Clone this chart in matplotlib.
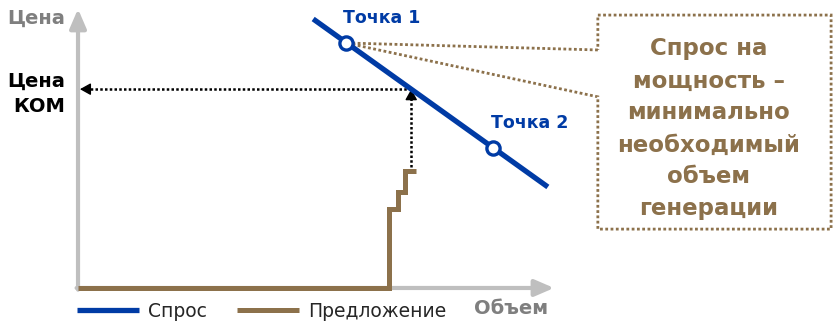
import matplotlib.pyplot as plt
from matplotlib.path import Path
from matplotlib.patches import PathPatch

# demand (Спрос) and supply (Предложение) curves, volume / price in % of axis
demand_q = [49.4, 98.7]
demand_p = [96.4, 36.2]
points_q = [56.3, 87.2]
points_p = [87.8, 50.2]
point_labels = ['Точка 1', 'Точка 2']

supply_q = [0, 65.3, 65.3, 67.2, 67.2, 68.7, 68.7, 71.0]
supply_p = [0, 0, 28.3, 28.3, 34.4, 34.4, 41.9, 41.9]

kom_q = 70.0
kom_p = demand_p[0] + (demand_p[1] - demand_p[0]) * (kom_q - demand_q[0]) / (demand_q[1] - demand_q[0])

blue = '#003BA5'
brown = '#8C714B'
grey = '#BFBFBF'
font = 'DejaVu Sans'

fig = plt.figure(figsize=(8.33, 3.21), dpi=100)
ax = fig.add_axes([0, 0, 1, 1])
ax.set_xlim(-16.39, 158.6)
ax.set_ylim(-11.83, 103.2)
ax.axis('off')

# axes with arrows
ax.annotate('', xy=(0, 100), xytext=(0, -0.6),
            arrowprops=dict(arrowstyle='-|>,head_length=0.58,head_width=0.25',
                            color=grey, lw=3, mutation_scale=20, shrinkA=0, shrinkB=0))
ax.annotate('', xy=(100, 0), xytext=(-0.3, 0),
            arrowprops=dict(arrowstyle='-|>,head_length=0.58,head_width=0.25',
                            color=grey, lw=3, mutation_scale=20, shrinkA=0, shrinkB=0))

# supply and demand
ax.plot(supply_q, supply_p, color=brown, lw=3.6, solid_joinstyle='miter',
        solid_capstyle='butt', label='Предложение', zorder=3)
ax.plot(demand_q, demand_p, color=blue, lw=3.8, solid_capstyle='butt',
        label='Спрос', zorder=4)

# dotted arrows to the КОМ price
dot = (0, (1, 0.9))
ax.plot([kom_q, kom_q], [43.2, kom_p - 2.0], color='black', lw=1.8, ls=dot, zorder=2)
ax.plot([kom_q, 1.0], [kom_p, kom_p], color='black', lw=1.8, ls=dot, zorder=2)
ax.annotate('', xy=(kom_q, kom_p), xytext=(kom_q, kom_p - 2.2),
            arrowprops=dict(arrowstyle='-|>,head_length=0.36,head_width=0.2',
                            color='black', lw=1, mutation_scale=18, shrinkA=0, shrinkB=0))
ax.annotate('', xy=(0.4, kom_p), xytext=(1.6, kom_p),
            arrowprops=dict(arrowstyle='-|>,head_length=0.36,head_width=0.2',
                            color='black', lw=1, mutation_scale=18, shrinkA=0, shrinkB=0))

# callout box
bx0, bx1, by0, by1 = 109.2, 158.2, 21.1, 97.8
verts = [(bx0, 85.3), (points_q[0], points_p[0]), (bx0, 68.5), (bx0, by0),
         (bx1, by0), (bx1, by1), (bx0, by1), (bx0, 85.3)]
callout = PathPatch(Path(verts), facecolor='none', edgecolor=brown, lw=2,
                    ls=(0, (1, 0.9)), zorder=1)
ax.add_patch(callout)
ax.text((bx0 + bx1) / 2 - 1.2, 57.0,
        'Спрос на\nмощность –\nминимально\nнеобходимый\nобъем\nгенерации',
        ha='center', va='center', color=brown, fontsize=16.5, fontweight='bold',
        family=font, linespacing=1.5)

# points
ax.plot(points_q, points_p, 'o', ms=9.5, mfc='white', mec=blue, mew=2.4, zorder=5)
for q, p, lab in zip(points_q, points_p, point_labels):
    ax.annotate(lab, xy=(q, p), xytext=(26, 18), textcoords='offset points',
                ha='center', va='center', color=blue, fontsize=12.5,
                fontweight='bold', family=font)

# axis labels
ax.text(-2.7, 96.8, 'Цена', ha='right', va='center', color='#7F7F7F',
        fontsize=14, fontweight='bold', family=font)
ax.text(-2.7, kom_p - 1.6, 'Цена\nКОМ', ha='right', va='center', color='black',
        fontsize=14, fontweight='bold', family=font, linespacing=1.4)
ax.text(91.0, -7.2, 'Объем', ha='center', va='center', color='#7F7F7F',
        fontsize=14, fontweight='bold', family=font)

handles, labels = ax.get_legend_handles_labels()
ax.legend(handles[::-1], labels[::-1], ncol=2, frameon=False,
          loc='center left', bbox_to_anchor=(0.0924, 0.031),
          borderpad=0, borderaxespad=0, handlelength=3.3, handletextpad=0.5,
          columnspacing=1.6, prop=dict(family=font, size=13.5),
          labelcolor='#262626')

fig.savefig('out.png', dpi=100)
